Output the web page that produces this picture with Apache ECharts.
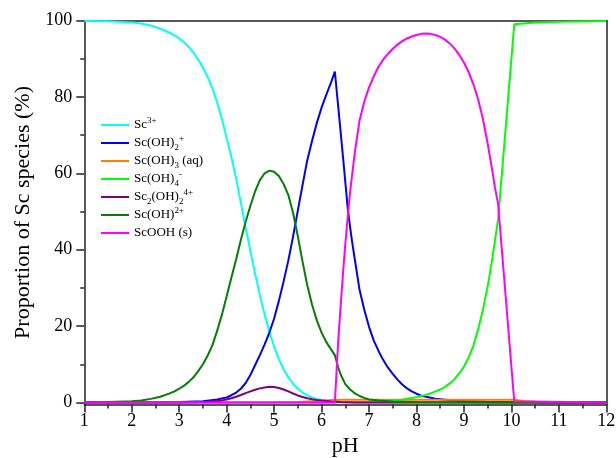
<!DOCTYPE html>
<html>
<head>
<meta charset="utf-8">
<script src="https://cdn.jsdelivr.net/npm/echarts@6/dist/echarts.min.js"></script>
<style>
  html, body { margin: 0; padding: 0; background: #fff; }
  #chart { width: 616px; height: 458px; }
</style>
</head>
<body>
<div id="chart"></div>
<script>
// Speciation of scandium versus pH (percent of total Sc)

const yTickValues = [0, 20, 40, 60, 80, 100];
const yMinorValues = [10, 30, 50, 70, 90];

// Sc3+
const sc3pH = [1, 1.5, 2, 2.2, 2.4, 2.6, 2.8, 2.9, 3, 3.1, 3.2, 3.3, 3.4, 3.5, 3.6, 3.7, 3.8, 3.9, 4, 4.1, 4.2, 4.3, 4.4, 4.5, 4.6, 4.7, 4.8, 4.9, 5, 5.1, 5.2, 5.3, 5.4, 5.5, 5.6, 5.7, 5.8, 5.9, 6, 6.2, 6.4, 6.6, 7, 12];
const sc3Val = [99.9, 99.8, 99.5, 99.2, 98.7, 97.9, 96.8, 96.1, 95.3, 94.3, 93.1, 91.6, 89.8, 87.7, 85.2, 82.3, 78.5, 74.2, 69.2, 64.2, 58.6, 52.2, 45.8, 39.6, 33.7, 28.1, 23.0, 18.5, 14.6, 11.3, 8.7, 6.6, 4.9, 3.6, 2.6, 1.9, 1.35, 0.95, 0.65, 0.3, 0.12, 0.05, 0, 0];

// Sc(OH)2+  (dihydroxo, +1)
const scOH2pH = [1, 2, 2.5, 3, 3.5, 3.8, 4, 4.1, 4.2, 4.3, 4.4, 4.5, 4.6, 4.7, 4.8, 4.9, 5, 5.1, 5.2, 5.3, 5.4, 5.5, 5.6, 5.7, 5.8, 5.9, 6, 6.1, 6.2, 6.28, 6.35, 6.45, 6.55, 6.6, 6.65, 6.7, 6.8, 6.9, 7, 7.1, 7.2, 7.3, 7.4, 7.5, 7.6, 7.7, 7.8, 7.9, 8, 8.1, 8.2, 8.4, 8.7, 9, 9.5, 10, 11, 12];
const scOH2Val = [0, 0, 0.02, 0.1, 0.35, 0.8, 1.3, 1.9, 2.6, 3.6, 5.1, 7.2, 9.8, 12.4, 15.2, 18.3, 22.0, 26.6, 31.7, 37.2, 43.5, 50.3, 57.0, 63.5, 68.5, 73.2, 77.2, 80.6, 83.8, 86.6, 77.5, 64.5, 51.0, 46.0, 41.5, 37.5, 29.5, 24.3, 19.8, 16.2, 13.5, 11.1, 9.1, 7.5, 6.0, 4.7, 3.7, 2.9, 2.3, 1.8, 1.5, 1.0, 0.6, 0.4, 0.2, 0.1, 0, 0];

// Sc(OH)3 (aq)
const scOH3pH = [1, 4, 5, 5.5, 6, 6.28, 7, 8, 9, 10, 10.06, 10.25, 10.5, 11, 12];
const scOH3Val = [0, 0.01, 0.05, 0.15, 0.45, 0.75, 0.75, 0.75, 0.72, 0.7, 0.7, 0.4, 0.18, 0.05, 0.01];

// Sc(OH)4-
const scOH4pH = [1, 6, 6.5, 7, 7.5, 7.7, 7.9, 8, 8.1, 8.2, 8.3, 8.4, 8.5, 8.6, 8.7, 8.8, 8.9, 9, 9.1, 9.2, 9.3, 9.4, 9.5, 9.6, 9.7, 9.72, 10.06, 10.1, 10.5, 11, 12];
const scOH4Val = [0, 0, 0.05, 0.15, 0.45, 0.75, 1.15, 1.4, 1.7, 2.0, 2.4, 2.9, 3.4, 4.1, 5.0, 6.1, 7.6, 9.4, 11.8, 14.9, 19.2, 24.3, 30.4, 37.8, 46.3, 48.0, 99.0, 99.3, 99.5, 99.7, 99.9];

// Sc2(OH)2 4+
const sc2OH2pH = [1, 3, 3.5, 3.7, 3.9, 4, 4.1, 4.2, 4.3, 4.4, 4.5, 4.6, 4.7, 4.8, 4.9, 5, 5.1, 5.2, 5.3, 5.4, 5.5, 5.6, 5.7, 5.8, 5.9, 6, 6.2, 6.4, 6.7, 7, 12];
const sc2OH2Val = [0, 0.02, 0.12, 0.28, 0.55, 0.8, 1.1, 1.5, 1.95, 2.45, 2.9, 3.35, 3.7, 3.95, 4.1, 4.05, 3.8, 3.4, 2.9, 2.35, 1.85, 1.45, 1.1, 0.85, 0.65, 0.5, 0.25, 0.1, 0.03, 0, 0];

// Sc(OH)2+  (monohydroxo, +2)
const scOHpH = [1, 1.5, 2, 2.2, 2.4, 2.6, 2.8, 2.9, 3, 3.1, 3.2, 3.3, 3.4, 3.5, 3.6, 3.7, 3.8, 3.9, 4, 4.1, 4.2, 4.3, 4.4, 4.5, 4.6, 4.7, 4.8, 4.9, 5, 5.1, 5.2, 5.3, 5.4, 5.5, 5.6, 5.7, 5.8, 5.9, 6, 6.1, 6.2, 6.28, 6.35, 6.4, 6.5, 6.6, 6.7, 6.8, 6.9, 7, 7.2, 7.5, 8, 9, 10, 12];
const scOHVal = [0.03, 0.1, 0.3, 0.5, 0.95, 1.5, 2.4, 2.9, 3.6, 4.4, 5.4, 6.6, 8.2, 10.0, 12.3, 15.0, 18.8, 23.0, 27.8, 32.7, 37.5, 42.6, 47.3, 51.5, 55.3, 58.2, 60.0, 60.7, 60.4, 59.3, 57.2, 54.3, 49.6, 43.5, 36.8, 30.6, 25.6, 21.5, 18.3, 15.8, 13.9, 12.4, 9.2, 7.4, 4.8, 3.4, 2.4, 1.7, 1.2, 0.8, 0.5, 0.25, 0.1, 0.05, 0, 0];

// ScOOH (s)
const scOOHpH = [1, 6.28, 6.35, 6.4, 6.45, 6.5, 6.55, 6.6, 6.7, 6.8, 6.9, 7, 7.1, 7.2, 7.3, 7.4, 7.5, 7.6, 7.7, 7.8, 7.9, 8, 8.1, 8.2, 8.3, 8.4, 8.5, 8.6, 8.7, 8.8, 8.9, 9, 9.1, 9.2, 9.3, 9.4, 9.5, 9.6, 9.65, 9.72, 10.06, 10.1, 12];
const scOOHVal = [0, 0, 16.0, 25.0, 33.5, 41.5, 48.5, 55.0, 65.5, 73.8, 78.8, 82.5, 85.4, 87.9, 89.8, 91.3, 92.6, 93.7, 94.6, 95.3, 95.8, 96.2, 96.5, 96.6, 96.5, 96.2, 95.7, 95.0, 94.0, 92.7, 91.0, 89.0, 86.5, 83.3, 79.3, 74.2, 67.8, 60.5, 56.5, 52.0, 0.3, 0, 0];

const seriesNames = ['Sc3+', 'Sc(OH)2+', 'Sc(OH)3 (aq)', 'Sc(OH)4-', 'Sc2(OH)24+', 'Sc(OH)2+ ', 'ScOOH (s)'];
const seriesColors = ['#00FFFF', '#0000FF', '#FF8000', '#00FF00', '#800080', '#008000', '#FF00FF'];
const seriesX = [sc3pH, scOH2pH, scOH3pH, scOH4pH, sc2OH2pH, scOHpH, scOOHpH];
const seriesY = [sc3Val, scOH2Val, scOH3Val, scOH4Val, sc2OH2Val, scOHVal, scOOHVal];

// Legend labels with sub/superscripts as rich text
const legendRich = {
  'Sc3+': '{b|Sc}{sup|3+}',
  'Sc(OH)2+': '{b|Sc(OH)}{sub|2}{sup|+}',
  'Sc(OH)3 (aq)': '{b|Sc(OH)}{sub|3}{b| (aq)}',
  'Sc(OH)4-': '{b|Sc(OH)}{sub|4}{sup|-}',
  'Sc2(OH)24+': '{b|Sc}{sub|2}{b|(OH)}{sub|2}{sup|4+}',
  'Sc(OH)2+ ': '{b|Sc(OH)}{sup|2+}',
  'ScOOH (s)': '{b|ScOOH (s)}'
};

const serif = 'Liberation Serif, Times New Roman, serif';

const chart = echarts.init(document.getElementById('chart'), null, { renderer: 'canvas' });

const series = seriesNames.map((name, i) => ({
  name: name,
  type: 'line',
  xAxisIndex: 0,
  yAxisIndex: 0,
  showSymbol: false,
  symbol: 'none',
  smooth: false,
  animation: false,
  lineStyle: { color: seriesColors[i], width: 2 },
  itemStyle: { color: seriesColors[i] },
  data: seriesX[i].map((x, k) => [x, seriesY[i][k]])
}));

const axisLineStyle = { color: '#222', width: 1.5 };

chart.setOption({
  animation: false,
  backgroundColor: '#fff',
  grid: { left: 84.3, right: 9.7, top: 20.5, bottom: 53.6, containLabel: false, outerBoundsMode: 'none' },
  legend: {
    orient: 'vertical',
    left: 96,
    top: 111,
    icon: 'rect',
    itemWidth: 28,
    itemHeight: 2,
    itemGap: 0,
    data: seriesNames,
    formatter: (name) => legendRich[name],
    textStyle: {
      fontFamily: serif,
      fontSize: 13,
      color: '#000',
      lineHeight: 18,
      rich: {
        b: { fontFamily: serif, fontSize: 13, lineHeight: 18, color: '#000' },
        sup: { fontFamily: serif, fontSize: 9, lineHeight: 9, verticalAlign: 'top', color: '#000' },
        sub: { fontFamily: serif, fontSize: 9, lineHeight: 9, verticalAlign: 'bottom', color: '#000' }
      }
    }
  },
  xAxis: [
    {
      type: 'value',
      min: 1, max: 12, interval: 1,
      position: 'bottom',
      name: 'pH',
      nameLocation: 'middle',
      nameGap: 29,
      nameTextStyle: { fontFamily: serif, fontSize: 22, color: '#000' },
      axisLine: { show: true, lineStyle: axisLineStyle, onZero: false },
      axisTick: { show: true, inside: false, length: 8, lineStyle: axisLineStyle },
      minorTick: { show: true, splitNumber: 2, length: 4, lineStyle: { color: '#222', width: 1.5 } },
      axisLabel: { fontFamily: serif, fontSize: 18, color: '#000', margin: 8 },
      splitLine: { show: false }
    },
    {
      type: 'value',
      min: 1, max: 12,
      position: 'top',
      axisLine: { show: true, lineStyle: axisLineStyle, onZero: false },
      axisTick: { show: false },
      axisLabel: { show: false },
      splitLine: { show: false }
    }
  ],
  yAxis: [
    {
      type: 'value',
      min: -0.5, max: 100,
      position: 'left',
      name: 'Proportion of Sc species (%)',
      nameLocation: 'middle',
      nameGap: 46,
      nameTextStyle: { fontFamily: serif, fontSize: 22, color: '#000' },
      axisLine: { show: true, lineStyle: axisLineStyle, onZero: false },
      axisTick: { show: true, inside: false, length: 8, lineStyle: axisLineStyle, customValues: yTickValues },
      axisLabel: { fontFamily: serif, fontSize: 18, color: '#000', margin: 12, customValues: yTickValues },
      splitLine: { show: false }
    },
    {
      type: 'value',
      min: -0.5, max: 100,
      position: 'left',
      axisLine: { show: false, onZero: false },
      axisTick: { show: true, inside: false, length: 4, lineStyle: axisLineStyle, customValues: yMinorValues },
      axisLabel: { show: false },
      splitLine: { show: false }
    },
    {
      type: 'value',
      min: -0.5, max: 100,
      position: 'right',
      axisLine: { show: true, lineStyle: axisLineStyle, onZero: false },
      axisTick: { show: false },
      axisLabel: { show: false },
      splitLine: { show: false }
    }
  ],
  series: series
});
</script>
</body>
</html>
